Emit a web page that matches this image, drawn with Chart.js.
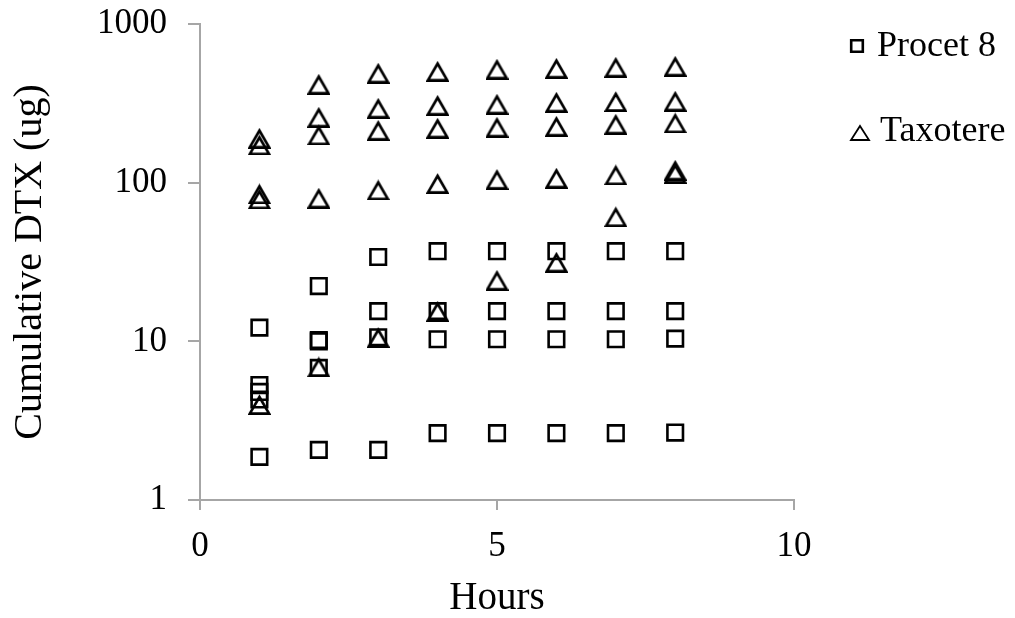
<!DOCTYPE html>
<html>
<head>
<meta charset="utf-8">
<script src="https://cdn.jsdelivr.net/npm/chart.js@4"></script>
<style>
  html, body { margin: 0; padding: 0; background: #fff; }
</style>
</head>
<body>
<canvas id="chart" width="1015" height="618"></canvas>
<script>
// Sampling times (hours)
const hours = [1, 2, 3, 4, 5, 6, 7, 8];

// Procet 8 replicates, cumulative DTX (ug)
const procetA = [12.2, 22.3, 34, 37, 37, 37, 37, 37];
const procetB = [5.3, 10.2, 15.5, 15.5, 15.5, 15.5, 15.5, 15.5];
const procetC = [4.8, 10.0, 10.6, 10.3, 10.3, 10.3, 10.3, 10.4];
const procetD = [4.3, 6.8, null, null, null, null, null, null];
const procetE = [1.87, 2.07, 2.07, 2.64, 2.64, 2.64, 2.64, 2.66];

// Taxotere replicates, cumulative DTX (ug)
const taxoA = [191, 418, 491, 505, 520, 527, 535, 543];
const taxoB = [173, 259, 295, 308, 313, 322, 325, 327];
const taxoC = [85, 200, 214, 221, 224, 227, 234, 238];
const taxoD = [79, 80, 90, 99, 105, 107, 112, 120];
const taxoE = [4.0, 6.9, 10.6, 15.5, 24.3, 31.6, 61, 115];

// Axis ticks
const xTicks = [0, 5, 10];
const yTicks = [1, 10, 100, 1000];

const FONT = "'Liberation Serif', 'Times New Roman', serif";
const AXIS_GREY = '#a6a6a6';

// Turn replicate rows into scatter points
function toPoints(rows) {
    const pts = [];
    rows.forEach(row => {
        row.forEach((v, i) => {
            if (v !== null) pts.push({ x: hours[i], y: v });
        });
    });
    return pts;
}

// Excel-like open triangle marker (centred on its bounding box)
function makeTriangle(w, h, lw) {
    const c = document.createElement('canvas');
    c.width = w;
    c.height = h;
    const g = c.getContext('2d');
    g.strokeStyle = '#000';
    g.lineWidth = lw;
    g.lineJoin = 'miter';
    g.beginPath();
    g.moveTo(w / 2, lw * 1.1);
    g.lineTo(w - lw / 2 - 0.5, h - lw / 2);
    g.lineTo(lw / 2 + 0.5, h - lw / 2);
    g.closePath();
    g.stroke();
    return c;
}

const triMarker = makeTriangle(23, 21, 2.7);

// Axes keep exactly the box we give them
function noPad(s) {
    s.paddingTop = 0;
    s.paddingBottom = 0;
    s.paddingLeft = 0;
    s.paddingRight = 0;
}

// Legend drawn by hand so it can sit apart from the plot
const sideLegend = {
    id: 'sideLegend',
    afterDraw(chart) {
        const ctx = chart.ctx;
        ctx.save();
        Chart.helpers.drawPoint(ctx, {
            pointStyle: 'rect', radius: 8.2, rotation: 0, borderWidth: 1.8
        }, 857, 46);
        ctx.strokeStyle = '#000';
        ctx.lineWidth = 1.8;
        ctx.beginPath();
        ctx.moveTo(860, 126);
        ctx.lineTo(869, 140);
        ctx.lineTo(851, 140);
        ctx.closePath();
        ctx.stroke();
        ctx.fillStyle = '#000';
        ctx.font = '36px ' + FONT;
        ctx.textBaseline = 'middle';
        ctx.textAlign = 'left';
        ctx.fillText(chart.data.datasets[0].label, 877, 47);
        ctx.fillText(chart.data.datasets[1].label, 880, 132);
        ctx.restore();
    }
};

const ctx = document.getElementById('chart');
new Chart(ctx, {
    type: 'scatter',
    data: {
        datasets: [{
            label: 'Procet 8',
            data: toPoints([procetA, procetB, procetC, procetD, procetE]),
            pointStyle: 'rect',
            pointRadius: 11,
            borderColor: '#000',
            borderWidth: 2.6,
            backgroundColor: 'rgba(0,0,0,0)',
            clip: false
        }, {
            label: 'Taxotere',
            data: toPoints([taxoA, taxoB, taxoC, taxoD, taxoE]),
            pointStyle: triMarker,
            pointRadius: 11,
            borderColor: '#000',
            backgroundColor: 'rgba(0,0,0,0)',
            clip: false
        }]
    },
    options: {
        responsive: false,
        animation: false,
        layout: { padding: { left: 0, right: 221, top: 24, bottom: 0 } },
        plugins: {
            legend: { display: false },
            tooltip: { enabled: false }
        },
        scales: {
            x: {
                type: 'linear',
                min: 0,
                max: 10,
                afterBuildTicks: s => { s.ticks = xTicks.map(v => ({ value: v })); },
                afterFit: s => { s.height = 118; noPad(s); },
                ticks: {
                    color: '#000',
                    font: { family: FONT, size: 35 },
                    padding: 16,
                    autoSkip: false,
                    maxRotation: 0,
                    callback: v => String(v)
                },
                grid: {
                    drawOnChartArea: false,
                    tickLength: 10,
                    color: AXIS_GREY,
                    lineWidth: 2
                },
                border: { color: AXIS_GREY, width: 2 },
                title: {
                    display: true,
                    text: 'Hours',
                    color: '#000',
                    font: { family: FONT, size: 39 },
                    padding: { top: 0, bottom: -4 }
                }
            },
            y: {
                type: 'logarithmic',
                min: 1,
                max: 1000,
                afterBuildTicks: s => { s.ticks = yTicks.map(v => ({ value: v })); },
                afterFit: s => { s.width = 200; noPad(s); },
                ticks: {
                    color: '#000',
                    font: { family: FONT, size: 35 },
                    padding: 21,
                    autoSkip: false,
                    callback: v => String(v)
                },
                grid: {
                    drawOnChartArea: false,
                    tickLength: 12,
                    color: AXIS_GREY,
                    lineWidth: 2
                },
                border: { color: AXIS_GREY, width: 2 },
                title: {
                    display: true,
                    text: 'Cumulative DTX (ug)',
                    color: '#000',
                    font: { family: FONT, size: 40 },
                    padding: { top: 6, bottom: 0 }
                }
            }
        }
    },
    plugins: [sideLegend]
});
</script>
</body>
</html>
